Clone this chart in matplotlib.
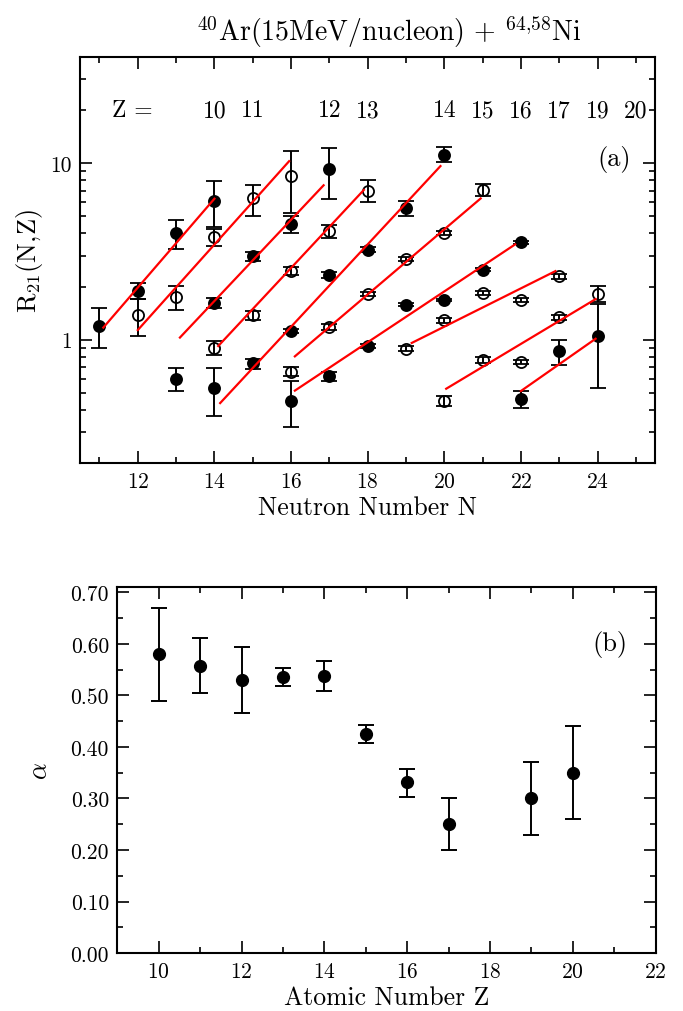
import numpy as np
import matplotlib
matplotlib.use("Agg")
import matplotlib.pyplot as plt
from matplotlib.ticker import FixedLocator, LogLocator, MultipleLocator, FormatStrFormatter, NullFormatter

plt.rcParams['font.family'] = 'serif'
plt.rcParams['font.serif'] = ['cmr10', 'DejaVu Serif']
plt.rcParams['mathtext.fontset'] = 'cm'
plt.rcParams['axes.formatter.use_mathtext'] = True

# ---- panel (a): isoscaling ratios R21 per element Z ----
z_list = [10, 11, 12, 13, 14, 15, 16, 17, 19, 20]
filled = [True, False, True, False, True, False, True, False, False, True]

n_vals = {
    10: [11, 12, 13, 14],
    11: [12, 13, 14, 15, 16],
    12: [13, 14, 15, 16, 17],
    13: [14, 15, 16, 17, 18],
    14: [14, 15, 16, 17, 18, 19, 20],
    15: [16, 17, 18, 19, 20, 21],
    16: [16, 17, 18, 19, 20, 21, 22],
    17: [19, 20, 21, 22, 23],
    19: [20, 21, 22, 23, 24],
    20: [22, 23, 24],
}
r_vals = {
    10: [1.20, 1.90, 4.04, 6.15],
    11: [1.38, 1.74, 3.80, 6.32, 8.52],
    12: [0.60, 1.62, 2.97, 4.54, 9.25],
    13: [0.90, 1.38, 2.46, 4.13, 6.97],
    14: [0.53, 0.74, 1.12, 2.33, 3.24, 5.57, 11.2],
    15: [0.66, 1.18, 1.82, 2.87, 4.02, 7.03],
    16: [0.45, 0.62, 0.92, 1.58, 1.68, 2.49, 3.56],
    17: [0.89, 1.29, 1.84, 1.68, 2.29],
    19: [0.45, 0.77, 0.75, 1.34, 1.82],
    20: [0.46, 0.86, 1.05],
}
r_err_hi = {
    10: [0.31, 0.20, 0.72, 1.79],
    11: [0.31, 0.27, 0.42, 1.22, 3.20],
    12: [0.09, 0.10, 0.18, 0.50, 2.95],
    13: [0.08, 0.08, 0.12, 0.34, 1.08],
    14: [0.16, 0.04, 0.03, 0.08, 0.10, 0.56, 1.20],
    15: [0.04, 0.04, 0.05, 0.09, 0.12, 0.57],
    16: [0.13, 0.04, 0.02, 0.03, 0.03, 0.05, 0.06],
    17: [0.03, 0.04, 0.05, 0.05, 0.07],
    19: [0.03, 0.03, 0.02, 0.04, 0.19],
    20: [0.05, 0.14, 0.55],
}
r_err_lo = {
    10: [0.30, 0.20, 0.77, 1.80],
    11: [0.33, 0.26, 0.39, 1.28, 3.26],
    12: [0.09, 0.10, 0.18, 0.52, 2.99],
    13: [0.08, 0.08, 0.12, 0.36, 0.92],
    14: [0.16, 0.06, 0.03, 0.08, 0.10, 0.53, 1.00],
    15: [0.04, 0.04, 0.05, 0.09, 0.12, 0.53],
    16: [0.13, 0.04, 0.02, 0.03, 0.03, 0.05, 0.06],
    17: [0.03, 0.04, 0.05, 0.05, 0.07],
    19: [0.03, 0.03, 0.02, 0.04, 0.19],
    20: [0.05, 0.14, 0.52],
}

# fit lines: R = exp(alpha*N + c), drawn over [fit_n_lo, fit_n_hi]
fit_c = [-6.28, -6.57, -6.915, -7.64, -8.44, -7.06, -6.01, -4.83, -6.655, -8.37]
fit_n_lo = [11.1, 12.0, 13.1, 14.1, 14.15, 16.1, 16.1, 19.15, 20.05, 22.0]
fit_n_hi = [14.0, 15.95, 16.85, 17.9, 19.9, 20.95, 21.85, 22.9, 23.95, 23.95]

# labels of Z above the data, at N of heaviest isotope
z_label_n = [14, 15, 17, 18, 20, 21, 22, 23, 24, 25]

# ---- panel (b): slope parameter alpha ----
alpha = [0.58, 0.558, 0.53, 0.536, 0.538, 0.425, 0.332, 0.25, 0.30, 0.35]
alpha_hi = [0.67, 0.611, 0.595, 0.553, 0.566, 0.442, 0.357, 0.30, 0.37, 0.44]
alpha_lo = [0.49, 0.505, 0.465, 0.518, 0.509, 0.408, 0.303, 0.20, 0.23, 0.26]

fig = plt.figure(figsize=(6.83, 10.12), dpi=100)
ax1 = fig.add_axes([0.1176, 0.5415, 0.8414, 0.4011])
ax2 = fig.add_axes([0.1717, 0.0573, 0.7883, 0.3614])

for i, z in enumerate(z_list):
    n = np.array(n_vals[z])
    r = np.array(r_vals[z])
    yerr = [r_err_lo[z], r_err_hi[z]]
    fc = 'black' if filled[i] else 'none'
    ax1.errorbar(n, r, yerr=yerr, fmt='o', ms=8, mfc=fc, mec='black', mew=1.3,
                 ecolor='black', elinewidth=1.4, capsize=5.5, capthick=1.4, color='black')
    nn = np.linspace(fit_n_lo[i], fit_n_hi[i], 20)
    ax1.plot(nn, np.exp(alpha[i] * nn + fit_c[i]), color='red', lw=1.6, zorder=3)

ax1.set_yscale('log')
ax1.set_xlim(10.5, 25.5)
ax1.set_ylim(0.2, 40)
ax1.xaxis.set_major_locator(MultipleLocator(2))
ax1.xaxis.set_minor_locator(MultipleLocator(1))
ax1.yaxis.set_major_locator(FixedLocator([1, 10]))
ax1.yaxis.set_major_formatter(FormatStrFormatter('%d'))
ax1.yaxis.set_minor_locator(LogLocator(base=10, subs=np.arange(2, 10)))
ax1.yaxis.set_minor_formatter(NullFormatter())
ax1.set_xlabel('Neutron Number N', fontsize=18.5, labelpad=3)
ax1.set_ylabel(r'R$_{21}$(N,Z)', fontsize=19, labelpad=4)
ax1.set_title(r'$^{40}$Ar(15MeV/nucleon) + $^{64{,}58}$Ni', fontsize=20, pad=12, x=0.537)
ax1.text(11.85, 20, 'Z =', fontsize=17, ha='center', va='center')
for zl, nl in zip(z_list, z_label_n):
    ax1.text(nl, 20, str(zl), fontsize=17, ha='center', va='center')
ax1.text(0.929, 0.749, '(a)', transform=ax1.transAxes, fontsize=19, ha='center', va='center')

z_arr = np.array(z_list)
a_arr = np.array(alpha)
yerr_b = [a_arr - np.array(alpha_lo), np.array(alpha_hi) - a_arr]
ax2.errorbar(z_arr, a_arr, yerr=yerr_b, fmt='o', ms=8.5, color='black', ecolor='black',
             elinewidth=1.4, capsize=5.5, capthick=1.4)
ax2.set_xlim(9, 22)
ax2.set_ylim(0, 0.71)
ax2.xaxis.set_major_locator(MultipleLocator(2))
ax2.xaxis.set_minor_locator(MultipleLocator(1))
ax2.yaxis.set_major_locator(MultipleLocator(0.1))
ax2.yaxis.set_minor_locator(MultipleLocator(0.05))
ax2.yaxis.set_major_formatter(FormatStrFormatter('%.2f'))
ax2.set_xlabel('Atomic Number Z', fontsize=18.5, labelpad=3)
ax2.set_ylabel(r'$\alpha$', fontsize=19, labelpad=13)
ax2.text(0.915, 0.845, '(b)', transform=ax2.transAxes, fontsize=19, ha='center', va='center')

for ax in (ax1, ax2):
    for s in ax.spines.values():
        s.set_linewidth(1.5)
    ax.tick_params(which='both', direction='in', top=True, right=True, labelsize=15.5, width=1.2)
    ax.tick_params(which='major', length=8.5, pad=6)
    ax.tick_params(which='minor', length=4.5)

fig.savefig('out.png', dpi=100)
